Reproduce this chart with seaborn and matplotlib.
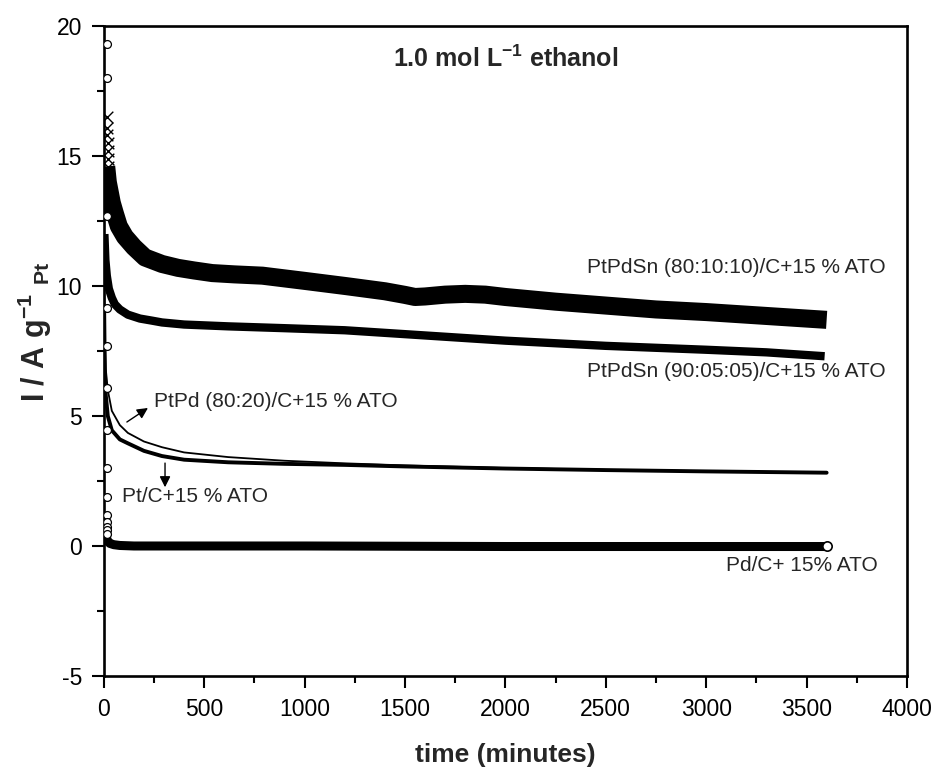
import matplotlib
matplotlib.use("Agg")
import matplotlib.pyplot as plt
import seaborn as sns
import numpy as np
import pandas as pd

# ---------------- data ----------------
t_8010 = [12, 20, 30, 40, 55, 75, 105, 150, 205, 290, 370, 450, 540, 650, 790,
          1000, 1205, 1400, 1500, 1550, 1600, 1700, 1800, 1900, 2000, 2250, 2500,
          2750, 3000, 3300, 3600]
v_8010 = [14.6, 14.0, 13.6, 13.2, 12.8, 12.3, 11.9, 11.5, 11.1, 10.85, 10.7,
          10.6, 10.5, 10.45, 10.4, 10.2, 10.0, 9.8, 9.66, 9.58, 9.6, 9.67, 9.7,
          9.67, 9.58, 9.4, 9.25, 9.1, 9.0, 8.85, 8.7]
# start of the 80:10:10 record (fan of 'x' markers)
t_8010_fan = [16, 17, 18, 19, 20, 21, 22, 23]
v_8010_fan = [16.5, 16.1, 15.8, 15.5, 15.2, 14.9, 14.6, 14.3]

t_9005 = [3, 8, 15, 25, 40, 55, 80, 120, 180, 240, 290, 400, 620, 900, 1200, 1500,
          2000, 2500, 3000, 3300, 3590]
v_9005 = [12.0, 11.0, 10.4, 9.9, 9.55, 9.3, 9.1, 8.9, 8.75, 8.67, 8.6, 8.52, 8.45,
          8.38, 8.3, 8.15, 7.9, 7.7, 7.55, 7.45, 7.3]

t_ptpd = [2, 5, 10, 20, 40, 80, 120, 200, 290, 400, 620, 900, 1200, 1500, 2000,
          2500, 3000, 3600]
v_ptpd = [10.5, 8.0, 6.8, 6.0, 5.2, 4.65, 4.35, 4.02, 3.8, 3.6, 3.42, 3.28, 3.18,
          3.1, 3.0, 2.93, 2.88, 2.82]
v_ptc = [9.0, 6.8, 5.8, 5.0, 4.45, 4.1, 3.95, 3.66, 3.46, 3.32, 3.22, 3.16, 3.12,
         3.06, 2.98, 2.92, 2.87, 2.82]

t_pd_early = [14, 14, 14, 14, 14, 14, 14, 14, 14, 14, 14, 14, 14, 14]
v_pd_early = [19.3, 18.0, 12.7, 9.17, 7.68, 6.08, 4.46, 3.0, 1.88, 1.2, 0.92, 0.73,
              0.6, 0.48]
t_pd = [10, 14, 20, 30, 50, 80, 150, 300, 1000, 2000, 3000, 3600]
v_pd = [0.45, 0.3, 0.18, 0.1, 0.05, 0.02, 0.0, 0.0, 0.0, -0.02, -0.02, -0.02]

x_ticks = [0, 500, 1000, 1500, 2000, 2500, 3000, 3500, 4000]
y_ticks = [-5, 0, 5, 10, 15, 20]

# ---------------- style ----------------
sns.set_style("ticks")
plt.rcParams['font.family'] = ['Liberation Sans', 'DejaVu Sans']
plt.rcParams['mathtext.fontset'] = 'custom'
plt.rcParams['mathtext.rm'] = 'Liberation Sans'
plt.rcParams['mathtext.bf'] = 'Liberation Sans:bold'
plt.rcParams['mathtext.it'] = 'Liberation Sans:italic'
plt.rcParams['axes.unicode_minus'] = False

fig = plt.figure(figsize=(9.35, 7.69), dpi=100)
ax = fig.add_axes([0.111, 0.121, 0.859, 0.845])

k = 'black'
sns.lineplot(x=t_8010, y=v_8010, ax=ax, color=k, lw=13, sort=False,
             estimator=None, solid_capstyle='butt', solid_joinstyle='round')
sns.scatterplot(x=t_8010_fan, y=v_8010_fan, ax=ax, marker='x', s=70, color=k,
                linewidth=1.0, zorder=3)
sns.lineplot(x=t_9005, y=v_9005, ax=ax, color=k, lw=6, sort=False,
             estimator=None, solid_capstyle='butt')
sns.lineplot(x=t_ptpd, y=v_ptc, ax=ax, color=k, lw=2.8, sort=False,
             estimator=None)
sns.lineplot(x=t_ptpd, y=v_ptpd, ax=ax, color=k, lw=1.3, sort=False,
             estimator=None)
sns.lineplot(x=t_pd, y=v_pd, ax=ax, color=k, lw=6.5, sort=False,
             estimator=None, solid_capstyle='butt')
sns.scatterplot(x=t_pd_early, y=v_pd_early, ax=ax, marker='o', s=32,
                facecolor='white', edgecolor=k, linewidth=0.9, zorder=3)
sns.scatterplot(x=[t_pd[-1]], y=[0.0], ax=ax, marker='o', s=45,
                facecolor='white', edgecolor=k, linewidth=1.2, zorder=4)

ax.set_xlim(0, 4000)
ax.set_ylim(-5, 20)
ax.set_xticks(x_ticks)
ax.set_yticks(y_ticks)
ax.set_xticks(np.arange(250, 4000, 500), minor=True)
ax.set_yticks(np.arange(-2.5, 20, 5), minor=True)
ax.tick_params(which='major', direction='out', length=8.6, width=1.5,
               labelsize=16.5, pad=7, color=k, labelcolor=k)
ax.tick_params(which='minor', direction='out', length=5, width=1.5, color=k)
ax.tick_params(top=False, right=False, which='both')
for s in ax.spines.values():
    s.set_linewidth(1.9)
    s.set_color(k)
    s.set_visible(True)

ax.set_xlabel('time (minutes)', fontsize=19, fontweight='bold', labelpad=16)
ax.set_ylabel(r'$\mathbf{I\ /\ A\ g^{-1}\ {}_{Pt}}$', fontsize=22)
ax.yaxis.set_label_coords(-0.062, 0.53)

ax.text(2000, 18.75, r'$\mathbf{1.0\ mol\ L^{-1}\ ethanol}$', ha='center',
        va='center', fontsize=18)

fs = 15
ax.text(3895, 10.7, 'PtPdSn (80:10:10)/C+15 % ATO', ha='right', va='center', fontsize=fs)
ax.text(3895, 6.7, 'PtPdSn (90:05:05)/C+15 % ATO', ha='right', va='center', fontsize=fs)
ax.text(3855, -0.75, 'Pd/C+ 15% ATO', ha='right', va='center', fontsize=fs)
ax.text(250, 5.54, 'PtPd (80:20)/C+15 % ATO', ha='left', va='center', fontsize=fs)
ax.text(90, 1.91, 'Pt/C+15 % ATO', ha='left', va='center', fontsize=fs)

ap = dict(arrowstyle='-|>', color=k, lw=1.0, mutation_scale=16,
          shrinkA=0, shrinkB=0)
ax.annotate('', xy=(220, 5.31), xytext=(115, 4.77), arrowprops=ap)
ax.annotate('', xy=(305, 2.26), xytext=(305, 3.19), arrowprops=ap)

fig.savefig('out.png', dpi=100, facecolor='white')
